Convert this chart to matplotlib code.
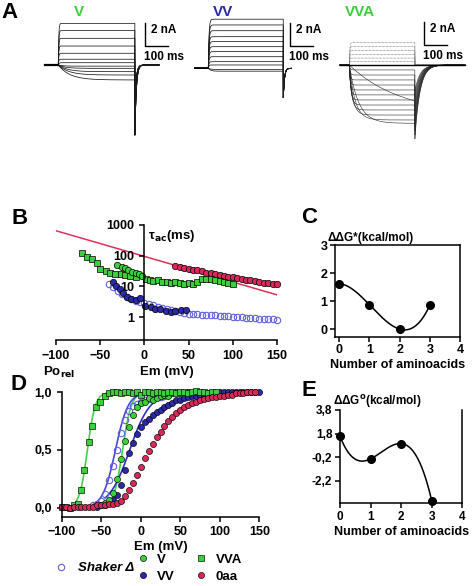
import numpy as np
import matplotlib
matplotlib.use('Agg')
import matplotlib.pyplot as plt

# ---------------------------------------------------------------- data
# panel A: steady-state step currents (nA)
a_v_levels = [3.62, 3.0, 2.32, 1.65, 1.02, 0.5, 0.2, -0.1, -0.29, -0.58, -0.87, -1.3]
a_v_taus = [2, 2, 2, 2, 2, 2, 3, 20, 30, 40, 45, 50]
a_v_tail = -6.2
a_vv_levels = [4.27, 3.77, 3.27, 2.75, 2.32, 1.88, 1.45, 1.01, 0.58, 0.29, -0.1, -0.25]
a_vv_taus = [3, 3, 3, 3, 3, 3, 3, 3, 3, 3, 10, 10]
a_vv_tail = -2.9
a_vva_out_levels = [1.94, 1.6, 1.25, 0.9, 0.6, 0.3]
a_vva_in_levels = [-0.43, -0.87, -1.3, -1.74, -2.17, -2.6, -3.04, -3.48, -3.91, -4.35, -4.78, -5.07, -4.4]
a_vva_in_taus = [4, 4, 4, 4, 4, 5, 6, 8, 10, 15, 25, 40, 230]
a_vva_tail = -6.5

# panel B: activation time constants (ms) vs Em (mV)
b_shaker_em = [-40, -35, -30, -25, -20, -15, -10, -5, 0, 5, 10, 15, 20, 25, 30, 35, 40, 45, 50,
               55, 60, 65, 70, 75, 80, 85, 90, 95, 100, 105, 110, 115, 120, 125, 130, 135, 140, 145, 150]
b_shaker_tau = [12, 9.5, 7.2, 5.6, 4.6, 3.9, 3.4, 3.1, 2.9, 2.7, 2.4, 2.2, 2.0, 1.8, 1.7, 1.6, 1.5, 1.4, 1.3,
                1.25, 1.25, 1.2, 1.2, 1.15, 1.15, 1.1, 1.1, 1.05, 1.0, 1.0, 0.98, 0.95, 0.95, 0.92, 0.9, 0.88, 0.85, 0.85, 0.8]
b_vv_em = [-36, -32, -28, -24, -20, -15, -10, -5, 1, 7, 12, 18, 24, 30, 35, 41, 47]
b_vv_tau = [14, 10.5, 8, 6, 4.6, 3.8, 3.6, 4.2, 2.3, 2.1, 1.9, 1.8, 1.6, 1.5, 1.6, 1.7, 1.7]
b_vva_em = [-71, -65, -59, -54, -50, -44, -39, -33, -27, -22, -16, -10, 2, 6, 10, 15, 20, 25, 30, 35,
            40, 45, 50, 55, 60, 65, 70, 75, 80, 85, 90, 95, 100]
b_vva_tau = [120, 93, 76, 56, 36, 32, 28, 25, 25, 23, 22, 21, 18, 16, 15, 16, 14, 14, 13, 14,
             13, 12, 13, 12, 14, 17, 18, 17, 16, 15, 14, 13, 12]
b_v_em = [-31, -25, -22, -18, -14, -10, -6, -3]
b_v_tau = [50, 44, 39, 34, 30, 28, 25, 22]
b_0aa_em = [35, 40, 45, 50, 55, 60, 65, 70, 75, 80, 85, 90, 95, 100, 105, 110, 115, 120, 125, 130,
            135, 140, 145, 150]
b_0aa_tau = [46, 42, 40, 37, 35, 33, 31, 28, 27, 26, 24, 22, 21, 20, 19, 17, 16, 16, 15, 14,
             13, 13, 12, 12]
b_fit_em = [-100, 150]
b_fit_tau = [650, 5.3]

# panels C and E: free energies vs number of aminoacids
n_aa = [0, 1, 2, 3]
c_ddg_act = [1.62, 0.87, 0.0, 0.85]
e_ddg_open = [1.57, -0.35, 0.95, -3.9]

# panel D: relative open probability vs Em (mV)
d_vva_em = [-100, -95, -90, -85, -80, -76, -72, -66, -62, -56, -51, -45, -40, -35, -30, -25, -20, -15, -10, -5,
            0, 5, 10, 15, 20, 25, 30, 35, 40, 45, 50, 55, 60, 65, 70, 75, 80, 85, 90, 95]
d_vva_po = [0.01, 0.01, 0.0, 0.02, 0.03, 0.15, 0.33, 0.57, 0.71, 0.87, 0.92, 0.97, 0.99, 1.0, 1.0, 0.99, 1.0, 1.0, 0.99, 1.0,
            0.98, 1.0, 1.0, 0.99, 1.0, 1.0, 0.99, 1.0, 1.0, 0.99, 1.0, 1.0, 0.99, 1.0, 1.01, 1.0, 1.0, 0.99, 1.0, 1.0]
d_v_em = [-50, -45, -40, -35, -30, -25, -20, -15, -10, -5, 0, 5, 10, 15, 20, 25, 30, 35, 40, 45, 50, 60, 70, 80]
d_v_po = [0.02, 0.04, 0.07, 0.13, 0.25, 0.42, 0.58, 0.70, 0.80, 0.87, 0.91, 0.92, 0.95, 0.93, 0.95, 0.97,
          0.98, 0.97, 0.99, 1.0, 0.99, 1.0, 1.0, 0.99]
d_shaker_em = [-60, -55, -50, -45, -40, -35, -30, -25, -20, -15, -10, -5, 0, 5, 10, 15, 20, 25, 30, 35]
d_shaker_po = [0.02, 0.03, 0.06, 0.12, 0.24, 0.36, 0.50, 0.65, 0.76, 0.84, 0.88, 0.90, 0.92, 0.93, 0.94,
               0.95, 0.96, 0.96, 0.97, 0.98]
d_vv_em = [-55, -50, -45, -40, -35, -30, -25, -20, -15, -10, -5, 0, 5, 10, 15, 20, 25, 30, 35, 40, 45,
           50, 55, 60, 65, 70, 75, 80, 85, 90, 95, 100, 105, 110, 115, 120, 125, 130, 135, 140, 145, 150]
d_vv_po = [0.01, 0.02, 0.02, 0.04, 0.07, 0.11, 0.20, 0.33, 0.47, 0.56, 0.64, 0.70, 0.74, 0.77, 0.80, 0.83,
           0.85, 0.87, 0.89, 0.91, 0.93, 0.93, 0.95, 0.96, 0.97, 0.97, 0.98, 0.98, 0.99, 0.99, 0.99,
           1.0, 1.0, 1.0, 1.0, 1.0, 1.0, 1.0, 1.0, 1.0, 1.0, 1.0]
d_0aa_em = [-100, -95, -90, -85, -80, -75, -70, -65, -60, -55, -50, -45, -40, -35, -30, -25, -20, -15, -10, -5,
            0, 5, 10, 15, 20, 25, 30, 35, 40, 45, 50, 55, 60, 65, 70, 75, 80, 85, 90, 95,
            100, 105, 110, 115, 120, 125, 130, 135, 140, 145]
d_0aa_po = [0.01, 0.01, 0.0, 0.01, 0.01, 0.01, 0.01, 0.01, 0.01, 0.02, 0.02, 0.02, 0.03, 0.03, 0.04, 0.06, 0.10, 0.15, 0.21, 0.28,
            0.35, 0.43, 0.49, 0.55, 0.61, 0.66, 0.71, 0.75, 0.79, 0.82, 0.85, 0.87, 0.89, 0.91, 0.92, 0.93, 0.94, 0.95, 0.96, 0.96,
            0.97, 0.97, 0.98, 0.98, 0.99, 0.99, 0.99, 1.0, 1.0, 1.0]
# Boltzmann fits drawn in D: (V1/2, slope, Em start, Em end)
d_fit_vva = (-67.5, 5.0, -82, 100)
d_fit_v = (-23, 5.5, -42, 100)
d_fit_shaker = (-32, 8.0, -60, 60)
d_fit_vv = (-14, 13.0, -45, 150)

GREEN = '#3ccf3c'
GREEN_LINE = '#46d046'
BLUE = '#2a2aa6'
BLUE_OPEN = '#6262dc'
RED = '#d8285a'

plt.rcParams['font.family'] = ['Liberation Sans', 'DejaVu Sans']
plt.rcParams['font.weight'] = 'bold'
plt.rcParams['axes.labelweight'] = 'bold'
plt.rcParams['axes.linewidth'] = 1.1
plt.rcParams['xtick.major.width'] = 1.1
plt.rcParams['ytick.major.width'] = 1.1
plt.rcParams['xtick.major.size'] = 3.5
plt.rcParams['ytick.major.size'] = 3.5
plt.rcParams['mathtext.default'] = 'regular'

W, H = 474, 586
fig = plt.figure(figsize=(W / 100, H / 100), dpi=100)


def px_axes(l, t, r, b):
    return fig.add_axes([l / W, 1 - b / H, (r - l) / W, (b - t) / H])


def px_text(x, y, s, **kw):
    fig.text(x / W, 1 - y / H, s, **kw)


def bold_ticks(ax):
    for lab in ax.get_xticklabels() + ax.get_yticklabels():
        lab.set_fontweight('bold')


# ---------------------------------------------------------------- panel A
PX_MS, PX_NA = 0.23, 11.5


def trace_axes(x0, y0, left, right, top, bottom):
    ax = px_axes(left, top, right, bottom)
    ax.set_xlim((left - x0) / PX_MS, (right - x0) / PX_MS)
    ax.set_ylim((y0 - bottom) / PX_NA, (y0 - top) / PX_NA)
    ax.axis('off')
    return ax


def step_trace(t, level, tau_on, dur, tail, tau_tail):
    i = np.zeros_like(t)
    on = (t >= 0) & (t < dur)
    i[on] = level * (1 - np.exp(-t[on] / tau_on))
    off = t >= dur
    i[off] = tail * np.exp(-(t[off] - dur) / tau_tail)
    return i


def scale_bar(ax, tc, ic):
    ax.plot([tc, tc, tc + 100], [ic + 2, ic, ic], color='k', lw=1.0)
    ax.text(tc + 28, ic + 1.4, '2 nA', fontsize=8.5, va='center', ha='left')
    ax.text(tc - 5, ic - 0.95, '100 ms', fontsize=8.5, va='center', ha='left')


# V
ax = trace_axes(58.3, 65, 40, 190, 15, 145)
t = np.linspace(-58, 438, 1500)
dur = 333
for lev, tau in zip(a_v_levels, a_v_taus):
    tail = a_v_tail * (0.55 + 0.45 * (lev < 0.3))
    ax.plot(t, step_trace(t, lev, tau, dur, tail, 6), color='0.1', lw=0.55)
ax.plot([-58, 0], [0, 0], color='k', lw=1.6)
scale_bar(ax, 377, 1.65)

# VV
ax = trace_axes(208.3, 68.3, 190, 340, 15, 145)
t = np.linspace(-58, 362, 1500)
dur = 326
for lev, tau in zip(a_vv_levels, a_vv_taus):
    ax.plot(t, step_trace(t, lev, tau, dur, a_vv_tail * 0.9, 5), color='0.1', lw=0.55)
ax.plot([-58, 0], [0, 0], color='k', lw=1.2)
scale_bar(ax, 355, 1.94)

# VVA
ax = trace_axes(349.3, 65, 335, 474, 15, 145)
t = np.linspace(-41, 503, 1500)
dur = 285
for lev in a_vva_out_levels:
    ax.plot(t, step_trace(t, lev, 2, dur, 0, 5), color='0.4', lw=0.5, ls=(0, (1, 1)))
for k, (lev, tau) in enumerate(zip(a_vva_in_levels, a_vva_in_taus)):
    tail = a_vva_tail * (0.35 + 0.65 * k / (len(a_vva_in_levels) - 1))
    ax.plot(t, step_trace(t, lev, tau, dur, tail, 22), color='0.15', lw=0.4)
ax.plot([-41, 503], [0, 0], color='k', lw=1.0)
scale_bar(ax, 325, 1.74)

px_text(10, 13, 'A', fontsize=16, ha='center', va='center')
px_text(79, 12, 'V', fontsize=11, color=GREEN, ha='center', va='center')
px_text(223, 12, 'VV', fontsize=11, color=BLUE, ha='center', va='center')
px_text(360, 12, 'VVA', fontsize=11, color=GREEN, ha='center', va='center')

# ---------------------------------------------------------------- panel B
mk = dict(ls='none', mec='k', mew=0.5, ms=4.6, clip_on=False)
axb = px_axes(56, 225, 277, 340)
axb.set_yscale('log')
axb.plot(b_fit_em, b_fit_tau, color='#e0305a', lw=1.1, zorder=1)
axb.plot(b_shaker_em, b_shaker_tau, marker='o', ls='none', mfc='none', mec=BLUE_OPEN, mew=0.8, ms=4.6, clip_on=False)
axb.plot(b_0aa_em, b_0aa_tau, marker='o', mfc=RED, **mk)
axb.plot(b_vva_em, b_vva_tau, marker='s', mfc=GREEN, **mk)
axb.plot(b_v_em, b_v_tau, marker='o', mfc=GREEN, **mk)
axb.plot(b_vv_em, b_vv_tau, marker='o', mfc=BLUE, **mk)
axb.set_xlim(-100, 150)
axb.set_ylim(10 ** -0.746, 1000)
axb.spines['left'].set_position(('data', 0))
axb.spines['top'].set_visible(False)
axb.spines['right'].set_visible(False)
axb.set_xticks([-100, -50, 0, 50, 100, 150])
axb.set_yticks([1, 10, 100, 1000])
axb.set_yticklabels(['1', '10', '100', '1000'])
axb.yaxis.set_minor_locator(matplotlib.ticker.NullLocator())
axb.tick_params(labelsize=9)
bold_ticks(axb)
axb.set_xlabel('Em (mV)', fontsize=9.5, labelpad=3)
px_text(20, 218, 'B', fontsize=16, ha='center', va='center')
px_text(148, 236, r'$\tau_{\mathbf{ac}}$(ms)', fontsize=9.5, ha='left', va='center')

# ---------------------------------------------------------------- panel C
xs = np.linspace(0, 3, 200)
axc = px_axes(335, 245, 460, 336.7)
axc.plot(xs, np.polyval(np.polyfit(n_aa, c_ddg_act, 3), xs), color='k', lw=1.1)
axc.plot(n_aa, c_ddg_act, 'o', color='k', ms=5.5, clip_on=False)
axc.set_xlim(-0.14, 4.0)
axc.set_ylim(-0.27, 3)
axc.set_xticks([0, 1, 2, 3, 4])
axc.set_yticks([0, 1, 2, 3])
axc.tick_params(labelsize=9, pad=2)
bold_ticks(axc)
axc.set_xlabel('Number of aminoacids', fontsize=9, labelpad=2)
px_text(309, 217, 'C', fontsize=16, ha='center', va='center')
px_text(328, 238, 'ΔΔG*(kcal/mol)', fontsize=8.5, ha='left', va='center')

# ---------------------------------------------------------------- panel E
axe = px_axes(340, 410, 462.3, 503.3)
axe.plot(xs, np.polyval(np.polyfit(n_aa, e_ddg_open, 3), xs), color='k', lw=1.1)
axe.plot(n_aa, e_ddg_open, 'o', color='k', ms=5.5, clip_on=False)
axe.set_xlim(0, 4.0)
axe.set_ylim(-4.12, 3.8)
axe.spines['top'].set_visible(False)
axe.set_xticks([0, 1, 2, 3, 4])
axe.set_yticks([3.8, 1.8, -0.2, -2.2])
axe.set_yticklabels(['3,8', '1,8', '-0,2', '-2,2'])
axe.tick_params(labelsize=8.5, pad=2)
bold_ticks(axe)
axe.set_xlabel('Number of aminoacids', fontsize=9, labelpad=2)
px_text(309, 390, 'E', fontsize=16, ha='center', va='center')
px_text(333, 402, r'ΔΔG$^{\mathbf{o}}$(kcal/mol)', fontsize=8.5, ha='left', va='center')

# ---------------------------------------------------------------- panel D
def boltzmann(fit):
    v_half, slope, v0, v1 = fit
    v = np.linspace(v0, v1, 200)
    return v, 1 / (1 + np.exp((v_half - v) / slope))


axd = px_axes(61.7, 392.3, 259.3, 516.7)
for fit, col in [(d_fit_vva, GREEN_LINE), (d_fit_v, GREEN_LINE),
                 (d_fit_shaker, '#4646e0'), (d_fit_vv, '#3030c0')]:
    axd.plot(*boltzmann(fit), color=col, lw=1.2, zorder=1)
mkd = dict(ls='none', mec='k', mew=0.45, ms=4.4, clip_on=False)
h_sh, = axd.plot(d_shaker_em, d_shaker_po, marker='o', ls='none', mfc='none', mec=BLUE_OPEN,
                 mew=0.8, ms=4.6, clip_on=False, label='Shaker Δ')
h_vv, = axd.plot(d_vv_em, d_vv_po, marker='o', mfc=BLUE, label='VV', **mkd)
h_v, = axd.plot(d_v_em, d_v_po, marker='o', mfc=GREEN, label='V', **mkd)
h_vva, = axd.plot(d_vva_em, d_vva_po, marker='s', mfc=GREEN, label='VVA', **mkd)
h_0aa, = axd.plot(d_0aa_em, d_0aa_po, marker='o', mfc=RED, label='0aa', **mkd)
axd.set_xlim(-100, 150)
axd.set_ylim(-0.078, 1.0)
axd.spines['top'].set_visible(False)
axd.spines['right'].set_visible(False)
axd.set_xticks([-100, -50, 0, 50, 100, 150])
axd.set_yticks([0, 0.5, 1.0])
axd.set_yticklabels(['0,0', '0,5', '1,0'])
axd.tick_params(labelsize=9)
bold_ticks(axd)
axd.set_xlabel('Em (mV)', fontsize=9.5, labelpad=2)
px_text(18, 384, 'D', fontsize=16, ha='center', va='center')
px_text(43, 372, r'Po$_{\mathbf{rel}}$', fontsize=9.5, ha='left', va='center')

fig.legend(handles=[h_sh], loc='center left', bbox_to_anchor=(41 / W, 1 - 568 / H),
           frameon=False, handlelength=1.2, handletextpad=0.7,
           prop={'size': 9.5, 'style': 'italic', 'weight': 'bold'})
fig.legend(handles=[h_v, h_vv, h_vva, h_0aa], loc='center left', bbox_to_anchor=(123 / W, 1 - 568 / H),
           ncol=2, frameon=False, handlelength=1.2, handletextpad=0.5, columnspacing=1.4,
           labelspacing=0.35, prop={'size': 9.5, 'weight': 'bold'})

fig.savefig('out.png', dpi=100)
